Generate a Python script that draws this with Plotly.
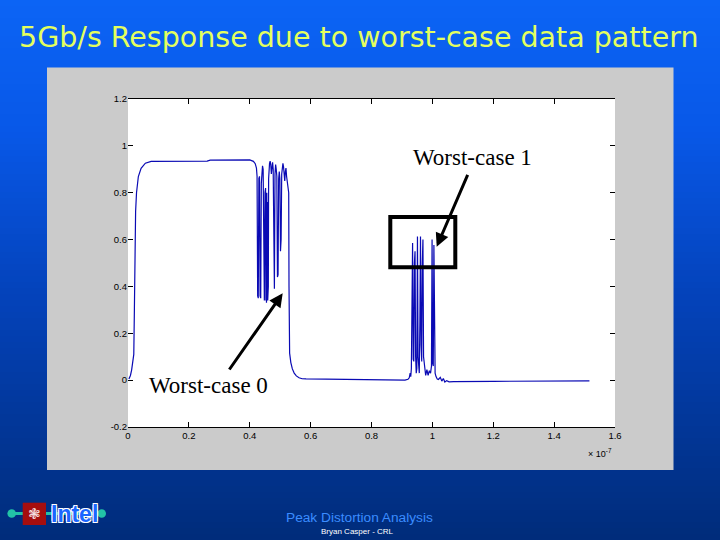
import plotly.graph_objects as go

# ---------------- data (time in units of 1e-7 s, response in V) ----------------
rise_t = [0.003, 0.008, 0.012, 0.016, 0.019, 0.021, 0.023, 0.025, 0.028, 0.034, 0.043, 0.057, 0.076]
rise_v = [0.005, 0.02, 0.044, 0.078, 0.11, 0.30, 0.60, 0.72, 0.80, 0.869, 0.904, 0.926, 0.934]

top_t = [0.10, 0.18, 0.26, 0.27, 0.34, 0.40, 0.412, 0.418, 0.422]
top_v = [0.934, 0.934, 0.935, 0.939, 0.940, 0.940, 0.934, 0.924, 0.905]

wc0_t = [0.424, 0.426, 0.428, 0.430, 0.432, 0.434, 0.436, 0.438, 0.440, 0.442, 0.444, 0.446, 0.448, 0.450,
         0.451, 0.452, 0.453, 0.454, 0.455, 0.456, 0.457, 0.458, 0.459, 0.460, 0.461, 0.462, 0.463,
         0.465, 0.467, 0.469, 0.471, 0.473, 0.475, 0.477, 0.479, 0.481, 0.483, 0.485, 0.487, 0.489,
         0.491, 0.493, 0.495, 0.497, 0.499, 0.501, 0.503, 0.505, 0.507, 0.509, 0.511, 0.513, 0.515,
         0.517, 0.519, 0.521, 0.523, 0.525, 0.527]
wc0_v = [0.87, 0.36, 0.35, 0.86, 0.87, 0.36, 0.35, 0.84, 0.90, 0.915, 0.90, 0.45, 0.34, 0.80,
         0.36, 0.82, 0.34, 0.78, 0.33, 0.80, 0.35, 0.76, 0.34, 0.70, 0.40, 0.86, 0.90,
         0.925, 0.935, 0.92, 0.88, 0.905, 0.93, 0.90, 0.40, 0.39, 0.88, 0.92, 0.90, 0.87,
         0.44, 0.45, 0.86, 0.89, 0.86, 0.55, 0.60, 0.88, 0.91, 0.925, 0.91, 0.87, 0.85,
         0.89, 0.905, 0.87, 0.84, 0.82, 0.81]

fall_t = [0.528, 0.529, 0.531, 0.535, 0.540, 0.546, 0.553, 0.562, 0.572, 0.585]
fall_v = [0.80, 0.40, 0.115, 0.075, 0.048, 0.030, 0.018, 0.010, 0.006, 0.005]

base_t = [0.65, 0.75, 0.85, 0.88, 0.91, 0.92]
base_v = [0.004, 0.003, 0.002, 0.0, 0.0, 0.004]

wc1_t = [0.924, 0.927, 0.929, 0.931, 0.933, 0.935, 0.937, 0.939, 0.941, 0.943, 0.945, 0.947, 0.949,
         0.951, 0.953, 0.955, 0.957, 0.959, 0.961, 0.963, 0.965, 0.967, 0.969, 0.971, 0.974, 0.978,
         0.982, 0.986, 0.990, 0.994, 0.997, 0.999, 1.001, 1.003, 1.005, 1.007, 1.009, 1.012, 1.016, 1.020]
wc1_v = [0.01, 0.03, 0.015, 0.05, 0.50, 0.585, 0.09, 0.08, 0.50, 0.55, 0.10, 0.03, 0.05,
         0.613, 0.10, 0.04, 0.03, 0.25, 0.613, 0.15, 0.08, 0.50, 0.60, 0.10, 0.05, 0.02,
         0.045, 0.02, 0.04, 0.03, 0.06, 0.60, 0.07, 0.06, 0.577, 0.05, 0.03, 0.015, 0.005, 0.003]

end_t = [1.026, 1.031, 1.036, 1.041, 1.047, 1.055, 1.07, 1.20, 1.35, 1.516]
end_v = [0.012, -0.004, 0.007, -0.008, -0.002, -0.007, -0.006, -0.005, -0.004, -0.003]

x_tick_vals = [0, 0.2, 0.4, 0.6, 0.8, 1.0, 1.2, 1.4, 1.6]
x_tick_text = ["0", "0.2", "0.4", "0.6", "0.8", "1", "1.2", "1.4", "1.6"]
y_tick_vals = [-0.2, 0, 0.2, 0.4, 0.6, 0.8, 1.0, 1.2]
y_tick_text = ["-0.2", "0", "0.2", "0.4", "0.6", "0.8", "1", "1.2"]

title_text = "5Gb/s Response due to worst-case data pattern"
label_wc1 = "Worst-case 1"
label_wc0 = "Worst-case 0"
footer_main = "Peak Distortion Analysis"
footer_sub = "Bryan Casper - CRL"

segments = [(rise_t, rise_v), (top_t, top_v), (wc0_t, wc0_v), (fall_t, fall_v),
            (base_t, base_v), (wc1_t, wc1_v), (end_t, end_v)]
t_all, v_all = [], []
for ts, vs in segments:
    assert len(ts) == len(vs)
    t_all += ts
    v_all += vs

# ---------------- layout geometry ----------------
W, H = 720, 540
L, R, T, B = 128, 105, 99, 113
PW, PH = W - L - R, H - T - B


def px(x):
    return (x - L) / PW


def py(y):
    return (H - B - y) / PH


shapes = []
# background gradient
stops = [(0, (12, 100, 245)), (130, (8, 88, 232)), (300, (4, 66, 185)), (540, (0, 44, 122))]


def grad(y):
    for (y0, c0), (y1, c1) in zip(stops[:-1], stops[1:]):
        if y0 <= y <= y1:
            f = (y - y0) / (y1 - y0)
            return "rgb(%d,%d,%d)" % tuple(round(a + (b - a) * f) for a, b in zip(c0, c1))
    return "rgb(%d,%d,%d)" % stops[-1][1]


band = 6
for y0 in range(0, H, band):
    shapes.append(dict(type="rect", xref="paper", yref="paper", x0=px(-2), x1=px(W + 2),
                       y0=py(min(y0 + band + 1, H + 2)), y1=py(y0 - (2 if y0 == 0 else 0)),
                       fillcolor=grad(y0 + band / 2), line_width=0, layer="below"))
# gray figure box
shapes.append(dict(type="rect", xref="paper", yref="paper", x0=px(47), x1=px(673.5),
                   y0=py(470), y1=py(67.5), fillcolor="#cbcbcb", line_width=0, layer="below"))
# white axes area
shapes.append(dict(type="rect", xref="paper", yref="paper", x0=0, x1=1, y0=0, y1=1,
                   fillcolor="white", line_width=0, layer="below"))
# highlight box around worst-case 1
shapes.append(dict(type="rect", xref="paper", yref="paper", x0=px(390.3), x1=px(455.3),
                   y0=py(267.3), y1=py(217), line=dict(color="black", width=4), layer="above"))
# Intel logo bits
shapes.append(dict(type="line", xref="paper", yref="paper", x0=px(9), x1=px(102),
                   y0=py(513.5), y1=py(513.5), line=dict(color="#22c3a6", width=3), layer="above"))
for cx in (11.7, 101.7):
    shapes.append(dict(type="circle", xref="paper", yref="paper", x0=px(cx - 4.3), x1=px(cx + 4.3),
                       y0=py(517.8), y1=py(509.2), fillcolor="#22c3a6", line_width=0, layer="above"))
shapes.append(dict(type="rect", xref="paper", yref="paper", x0=px(22.7), x1=px(46),
                   y0=py(525), y1=py(502.7), fillcolor="#a50e0e", line_width=0, layer="above"))

annotations = [
    dict(text=title_text, xref="paper", yref="paper", x=px(359), y=py(37), showarrow=False,
         xanchor="center", yanchor="middle", font=dict(family="DejaVu Sans", size=28.5, color="#e4ff5e")),
    dict(text=label_wc1, xref="paper", yref="paper", x=px(472), y=py(157), showarrow=False,
         xanchor="center", yanchor="middle", font=dict(family="Liberation Serif", size=23, color="black")),
    dict(text=label_wc0, xref="paper", yref="paper", x=px(208), y=py(385), showarrow=False,
         xanchor="center", yanchor="middle", font=dict(family="Liberation Serif", size=23, color="black")),
    dict(text="", xref="paper", yref="paper", x=px(436.7), y=py(246.7), ax=468.3 - 436.7, ay=173.3 - 246.7,
         showarrow=True, arrowhead=2, arrowsize=0.9, arrowwidth=3, arrowcolor="black", standoff=0),
    dict(text="", xref="paper", yref="paper", x=px(282.7), y=py(293.3), ax=228.3 - 282.7, ay=371 - 293.3,
         showarrow=True, arrowhead=2, arrowsize=0.9, arrowwidth=3, arrowcolor="black", standoff=0),
    dict(text="× 10<sup>-7</sup>", xref="paper", yref="paper", x=px(614), y=py(453), showarrow=False,
         xanchor="right", yanchor="middle", font=dict(family="Liberation Sans", size=9, color="black")),
    dict(text=footer_main, xref="paper", yref="paper", x=px(359), y=py(517), showarrow=False,
         xanchor="center", yanchor="middle", font=dict(family="Liberation Sans", size=13.7, color="#3b8cff")),
    dict(text=footer_sub, xref="paper", yref="paper", x=px(357), y=py(531), showarrow=False,
         xanchor="center", yanchor="middle", font=dict(family="Liberation Sans", size=8, color="white")),
    dict(text="❃", xref="paper", yref="paper", x=px(34.3), y=py(514), showarrow=False,
         xanchor="center", yanchor="middle", font=dict(family="DejaVu Sans", size=15, color="#f3dede")),
    dict(text="<b>Intel</b>", xref="paper", yref="paper", x=px(74), y=py(514), showarrow=False,
         xanchor="center", yanchor="middle",
         font=dict(family="Liberation Sans", size=23, color="#1a66ff",
                   shadow="1px 1px 0 white, -1px -1px 0 white, 1px -1px 0 white, -1px 1px 0 white")),
]

fig = go.Figure()
fig.add_trace(go.Scatter(x=t_all, y=v_all, mode="lines", line=dict(color="#0a0ab4", width=1.2),
                         showlegend=False, hoverinfo="skip"))

axis_common = dict(ticks="inside", ticklen=5, tickwidth=1, tickcolor="black", showgrid=False,
                   zeroline=False, mirror="ticks",
                   tickfont=dict(family="Liberation Sans", size=9.5, color="black"))
fig.update_xaxes(range=[0, 1.6], tickmode="array", tickvals=x_tick_vals, ticktext=x_tick_text,
                 showline=True, linecolor="black", linewidth=1, **axis_common)
fig.update_yaxes(range=[-0.2, 1.2], tickmode="array", tickvals=y_tick_vals, ticktext=y_tick_text,
                 showline=False, **axis_common)

fig.update_layout(width=W, height=H, autosize=False,
                  margin=dict(l=L, r=R, t=T, b=B, pad=0),
                  paper_bgcolor="rgb(0,44,122)", plot_bgcolor="rgba(0,0,0,0)",
                  shapes=shapes, annotations=annotations, showlegend=False)

fig.write_html("out.html", config={"displayModeBar": False},
               post_script="document.body.style.margin='0';document.body.style.overflow='hidden';")
